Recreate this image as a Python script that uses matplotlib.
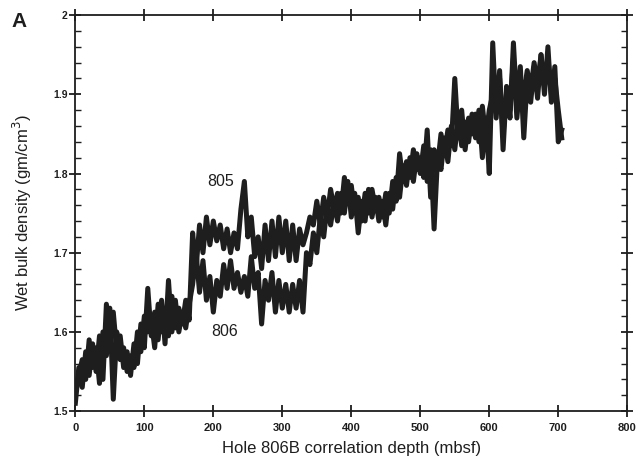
import numpy as np
import matplotlib
matplotlib.use("Agg")
import matplotlib.pyplot as plt
from matplotlib.ticker import MultipleLocator, FixedLocator, FixedFormatter

plt.rcParams['font.family'] = ['Liberation Sans', 'DejaVu Sans']

depth = list(range(0, 710, 5))

hole806 = [1.51, 1.555, 1.53, 1.575, 1.545, 1.585, 1.55, 1.595, 1.54, 1.635,
           1.585, 1.625, 1.575, 1.595, 1.555, 1.575, 1.545, 1.585, 1.56, 1.61,
           1.58, 1.655, 1.595, 1.625, 1.59, 1.64, 1.585, 1.665, 1.60, 1.64,
           1.60, 1.625, 1.605, 1.635, 1.66, 1.70, 1.65, 1.69, 1.64, 1.67,
           1.625, 1.665, 1.645, 1.685, 1.655, 1.69, 1.655, 1.675, 1.65, 1.67,
           1.645, 1.695, 1.655, 1.675, 1.61, 1.665, 1.64, 1.675, 1.625, 1.665,
           1.63, 1.66, 1.625, 1.66, 1.63, 1.665, 1.625, 1.70, 1.685, 1.725,
           1.70, 1.745, 1.72, 1.76, 1.735, 1.765, 1.74, 1.775, 1.75, 1.79,
           1.745, 1.775, 1.725, 1.765, 1.74, 1.78, 1.745, 1.77, 1.74, 1.765,
           1.735, 1.775, 1.755, 1.795, 1.77, 1.81, 1.785, 1.82, 1.79, 1.825,
           1.80, 1.835, 1.79, 1.83, 1.73, 1.82, 1.805, 1.845, 1.815, 1.86,
           1.83, 1.87, 1.835, 1.865, 1.84, 1.875, 1.845, 1.88, 1.82, 1.87,
           1.80, 1.965, 1.87, 1.93, 1.83, 1.91, 1.87, 1.965, 1.885, 1.935,
           1.845, 1.92, 1.89, 1.935, 1.895, 1.95, 1.90, 1.96, 1.89, 1.935,
           1.84, 1.855]

hole805 = [1.525, 1.545, 1.565, 1.54, 1.59, 1.555, 1.58, 1.535, 1.60, 1.57,
           1.63, 1.515, 1.60, 1.565, 1.58, 1.55, 1.57, 1.555, 1.60, 1.575,
           1.62, 1.60, 1.615, 1.58, 1.635, 1.60, 1.625, 1.595, 1.645, 1.605,
           1.63, 1.61, 1.64, 1.615, 1.725, 1.68, 1.735, 1.70, 1.745, 1.71,
           1.74, 1.715, 1.735, 1.705, 1.73, 1.70, 1.725, 1.705, 1.755, 1.79,
           1.72, 1.745, 1.695, 1.72, 1.68, 1.735, 1.69, 1.74, 1.695, 1.745,
           1.70, 1.74, 1.69, 1.735, 1.69, 1.73, 1.71, 1.725, 1.745, 1.735,
           1.765, 1.735, 1.77, 1.745, 1.78, 1.755, 1.775, 1.75, 1.795, 1.765,
           1.785, 1.75, 1.77, 1.74, 1.775, 1.75, 1.78, 1.755, 1.77, 1.745,
           1.775, 1.75, 1.79, 1.765, 1.825, 1.79, 1.815, 1.795, 1.83, 1.805,
           1.82, 1.795, 1.855, 1.77, 1.83, 1.81, 1.85, 1.825, 1.855, 1.835,
           1.92, 1.845, 1.88, 1.83, 1.87, 1.85, 1.875, 1.84, 1.885, 1.845,
           1.88, 1.90, 1.88, 1.92, 1.85, 1.90, 1.88, 1.945, 1.87, 1.92,
           1.90, 1.93, 1.905, 1.94, 1.91, 1.95, 1.915, 1.945, 1.90, 1.92,
           1.88, 1.845]

xticks = [0, 100, 200, 300, 400, 500, 600, 700, 800]
yticks = [1.5, 1.6, 1.7, 1.8, 1.9, 2.0]
ytick_labels = ["1.5", "1.6", "1.7", "1.8", "1.9", "2"]

ink = "#1e1e1e"
fig = plt.figure(figsize=(6.44, 4.72), dpi=100)
ax = fig.add_axes([0.117, 0.129, 0.857, 0.839])

ax.plot(depth, hole806, color=ink, lw=3.6, solid_joinstyle="round")
ax.plot(depth, hole805, color=ink, lw=3.6, solid_joinstyle="round")

ax.set_xlim(0, 800)
ax.set_ylim(1.5, 2.0)
ax.xaxis.set_major_locator(FixedLocator(xticks))
ax.yaxis.set_major_locator(FixedLocator(yticks))
ax.yaxis.set_major_formatter(FixedFormatter(ytick_labels))
ax.yaxis.set_minor_locator(MultipleLocator(0.02))

for s in ax.spines.values():
    s.set_linewidth(1.3)
    s.set_color(ink)

ax.tick_params(axis="x", which="major", direction="inout", length=9, width=1.3,
               top=True, bottom=True, labelsize=8, colors=ink, pad=4)
ax.tick_params(axis="y", which="major", direction="inout", length=9, width=1.3,
               left=True, right=True, labelsize=7.5, colors=ink, pad=1)
ax.tick_params(axis="y", which="minor", direction="in", length=4, width=1.0,
               left=True, right=True, colors=ink)
for lab in ax.get_xticklabels() + ax.get_yticklabels():
    lab.set_fontweight("bold")

ax.set_xlabel("Hole 806B correlation depth (mbsf)", fontsize=12, color=ink, labelpad=6)
ax.set_ylabel("Wet bulk density (gm/cm$^3$)", fontsize=12, color=ink, labelpad=14)

ax.text(211, 1.79, "805", fontsize=11.5, color=ink, ha="center", va="center")
ax.text(217, 1.60, "806", fontsize=11.5, color=ink, ha="center", va="center")
fig.text(0.018, 0.955, "A", fontsize=15, fontweight="bold", color=ink, ha="left", va="center")

fig.savefig("out.png", dpi=100, facecolor="white")
